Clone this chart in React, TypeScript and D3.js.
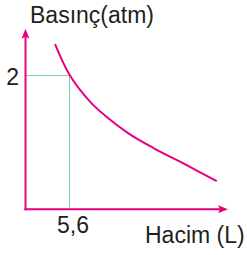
import { useEffect, useRef } from "react";
import * as d3 from "d3";

// curve: volume (L) vs pressure (atm)
const volumes = [3.72, 5.6, 8.12, 10.23, 12.91, 16.06, 20.3, 24.08];
const pressures = [2.47, 2.0, 1.61, 1.38, 1.14, 0.92, 0.66, 0.42];

const markV = 5.6;
const markP = 2;
const xTickLabel = "5,6";
const yTickLabel = "2";
const yTitle = "Basınç(atm)";
const xTitle = "Hacim (L)";

export default function App() {
  const svgRef = useRef<SVGSVGElement>(null);

  useEffect(() => {
    if (!svgRef.current) return;
    const svg = d3.select(svgRef.current);
    svg.selectAll("*").remove();

    const width = 247;
    const height = 255;
    const magenta = "#e6007e";
    const green = "#00a651";
    const textColor = "#231f20";
    const font = "'Liberation Sans', Arial, sans-serif";

    const x = d3.scaleLinear().domain([0, 25.5]).range([25.5, 228]);
    const y = d3.scaleLinear().domain([0, 2.7]).range([209.3, 28.7]);
    const crisp = (v: number) => Math.floor(v) + 0.5;

    svg.attr("width", width).attr("height", height);

    // dotted guides
    const gx = crisp(x(markV));
    const gy = crisp(y(markP));
    svg
      .append("line")
      .attr("x1", x(0) + 1)
      .attr("x2", gx)
      .attr("y1", gy)
      .attr("y2", gy)
      .attr("stroke", green)
      .attr("stroke-width", 1)
      .attr("stroke-dasharray", "1,1");
    svg
      .append("line")
      .attr("x1", gx)
      .attr("x2", gx)
      .attr("y1", gy)
      .attr("y2", y(0) - 1)
      .attr("stroke", green)
      .attr("stroke-width", 1)
      .attr("stroke-dasharray", "1,1");

    // axes
    const ax = svg.append("g").attr("stroke", magenta).attr("stroke-width", 2);
    ax.append("line")
      .attr("x1", x(0))
      .attr("x2", x(0))
      .attr("y1", y(0) + 1)
      .attr("y2", y(2.7) + 6);
    ax.append("line")
      .attr("x1", x(0) - 1)
      .attr("x2", x(25.5) - 6)
      .attr("y1", y(0))
      .attr("y2", y(0));

    const tipY = y(2.7);
    svg
      .append("path")
      .attr(
        "d",
        `M${x(0)},${tipY} L${x(0) - 4},${tipY + 10} L${x(0)},${tipY + 8} L${x(0) + 4},${tipY + 10} Z`
      )
      .attr("fill", magenta);
    const tipX = x(25.5);
    svg
      .append("path")
      .attr(
        "d",
        `M${tipX},${y(0)} L${tipX - 10},${y(0) - 4} L${tipX - 8},${y(0)} L${tipX - 10},${y(0) + 4} Z`
      )
      .attr("fill", magenta);

    // curve
    const line = d3
      .line<number>()
      .x((d) => x(d))
      .y((_, i) => y(pressures[i]))
      .curve(d3.curveCatmullRom);
    svg
      .append("path")
      .attr("d", line(volumes))
      .attr("fill", "none")
      .attr("stroke", magenta)
      .attr("stroke-width", 2);

    // texts
    const txt = svg
      .append("g")
      .attr("font-family", font)
      .attr("font-size", 23)
      .attr("fill", textColor);
    txt.append("text").attr("x", 30).attr("y", 23).text(yTitle);
    txt
      .append("text")
      .attr("x", 19)
      .attr("y", y(markP) + 9)
      .attr("text-anchor", "end")
      .text(yTickLabel);
    txt
      .append("text")
      .attr("x", x(markV) + 3)
      .attr("y", 233)
      .attr("text-anchor", "middle")
      .text(xTickLabel);
    txt
      .append("text")
      .attr("x", 145)
      .attr("y", 243)
      .text(xTitle);
  }, []);

  return (
    <svg
      ref={svgRef}
      style={{ position: "absolute", left: 0, top: 0, background: "white" }}
    />
  );
}
